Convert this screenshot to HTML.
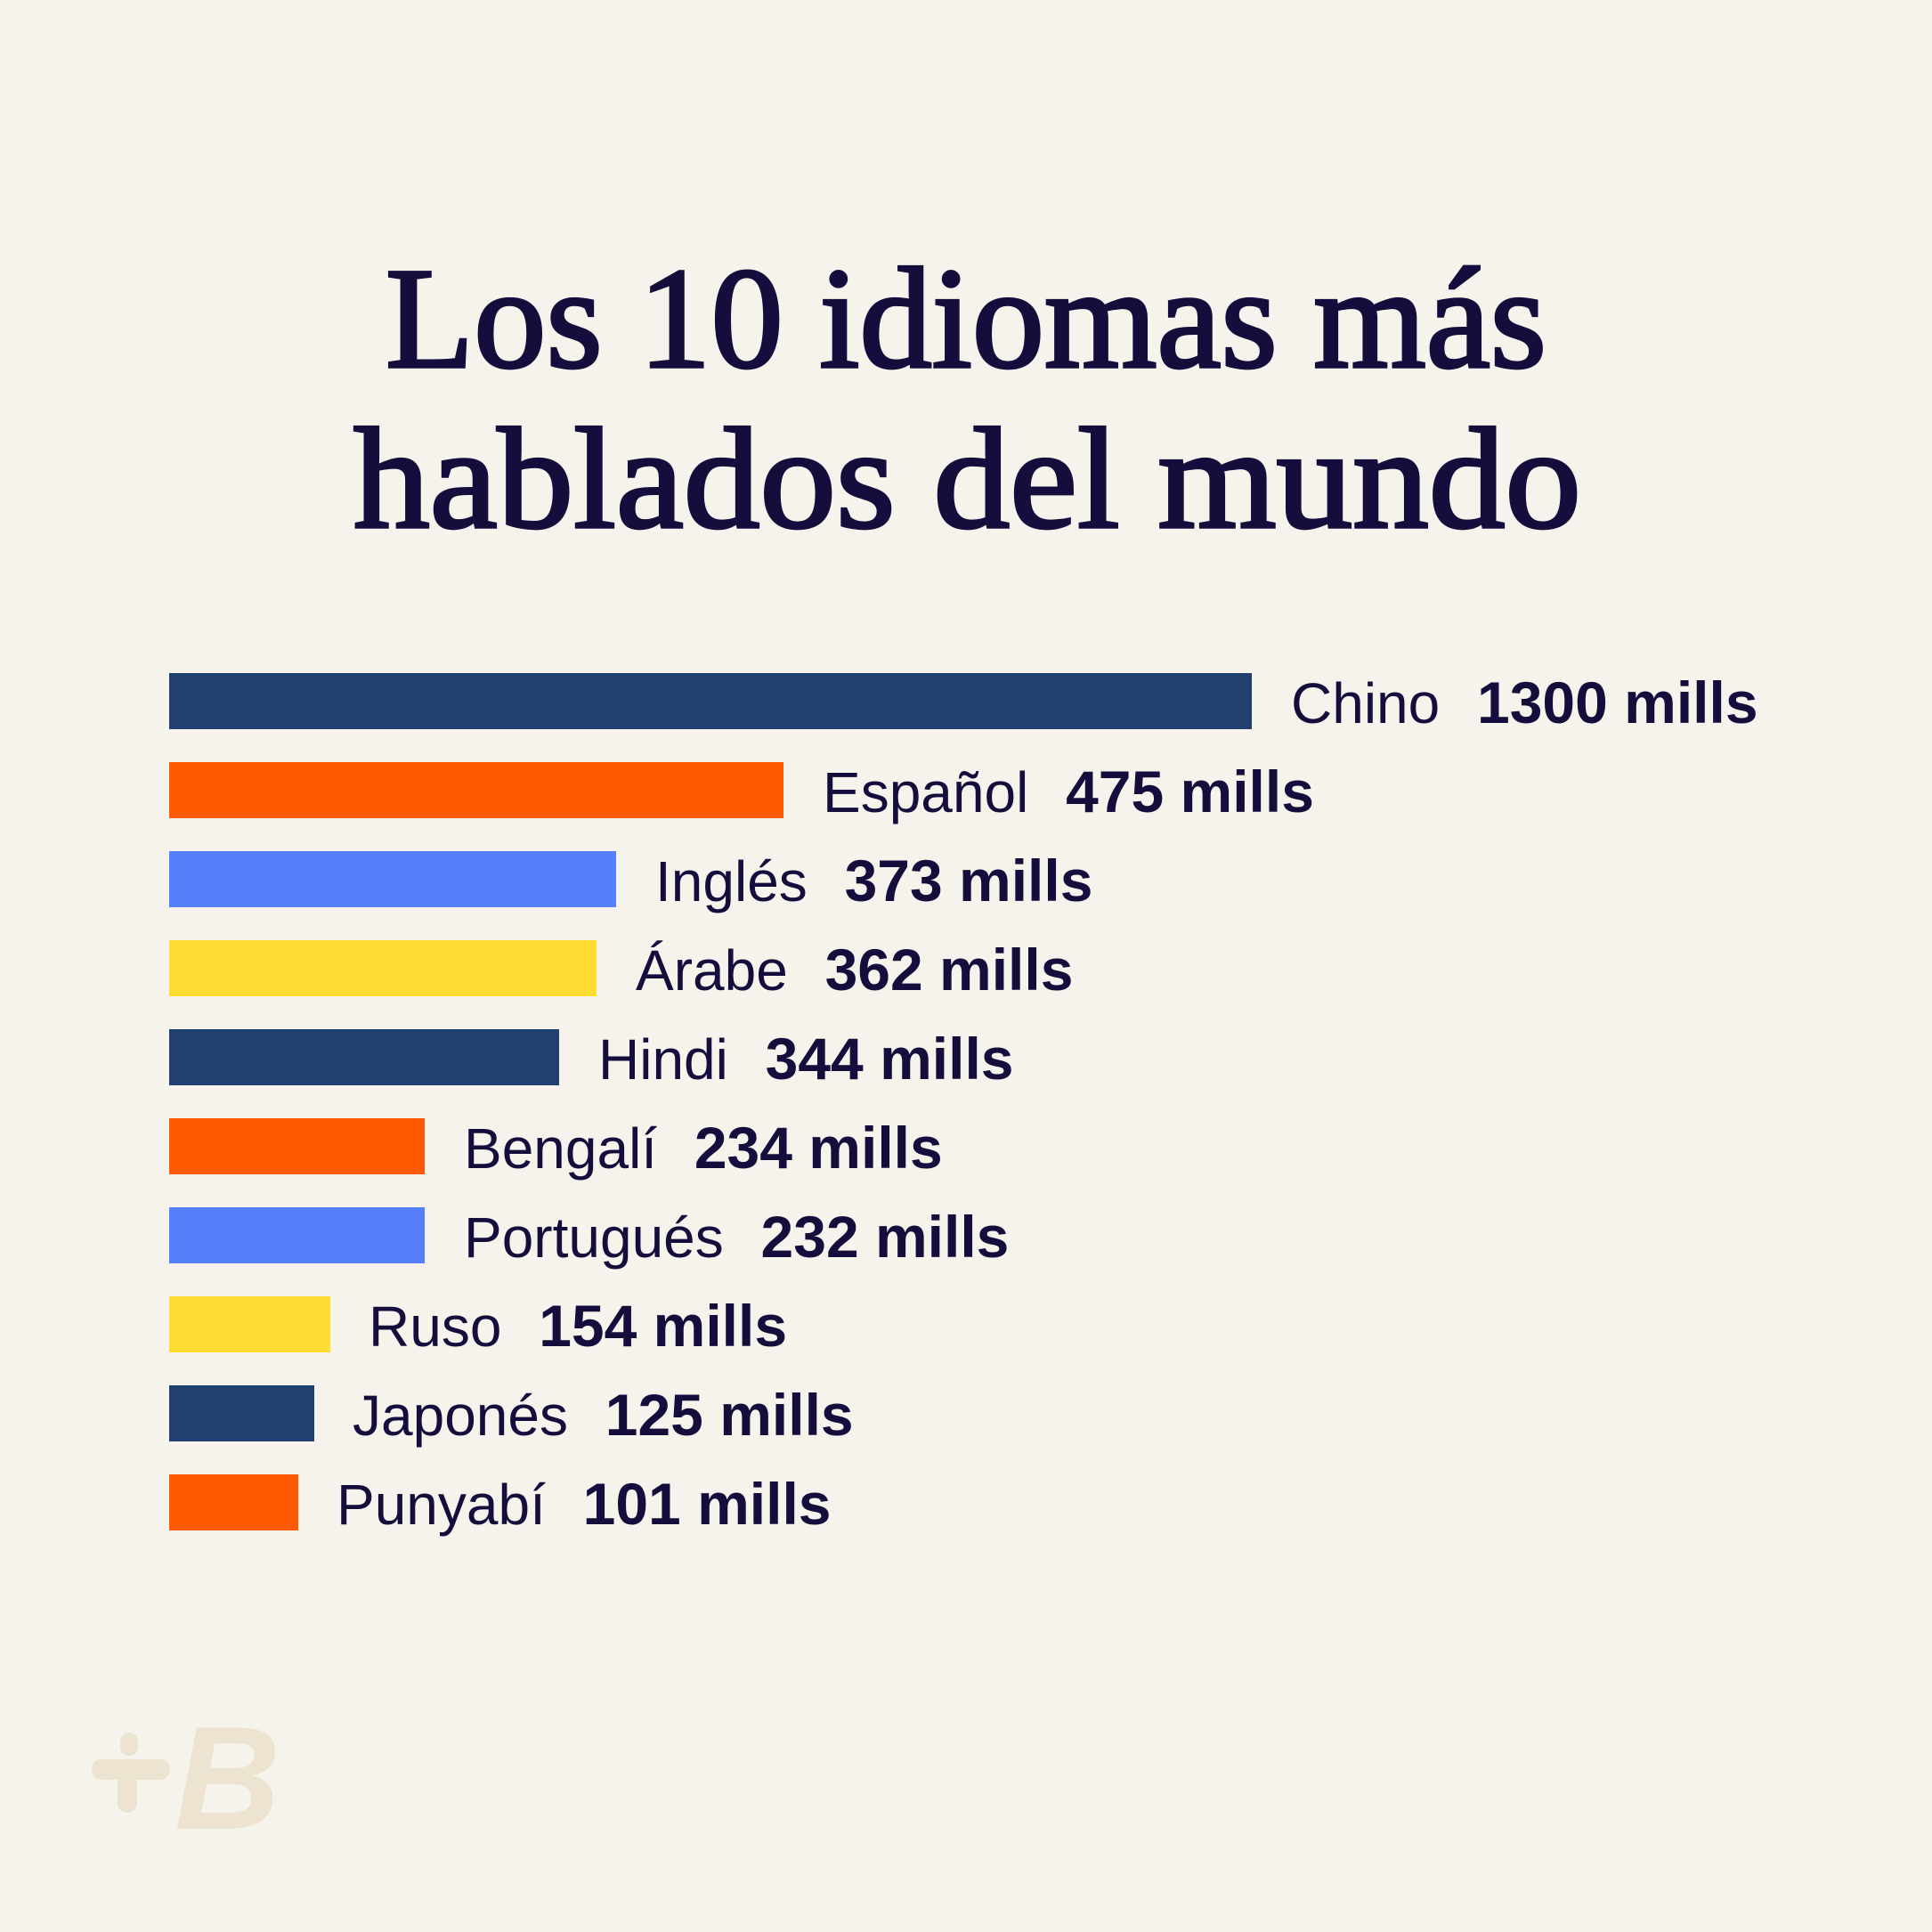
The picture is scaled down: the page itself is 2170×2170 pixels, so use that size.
<!DOCTYPE html>
<html><head><meta charset="utf-8"><style>
html,body{margin:0;padding:0;background:#f6f3ec;}
svg{display:block}
</style></head><body>
<svg width="2170" height="2170" viewBox="0 0 2170 2170" xmlns="http://www.w3.org/2000/svg">
<rect width="2170" height="2170" fill="#f6f3ec"/>
<g font-family="Liberation Serif, serif" font-size="162" fill="#150d3c" stroke="#150d3c" stroke-width="3.5">
<text x="433" y="412" textLength="1304" lengthAdjust="spacingAndGlyphs">Los 10 idiomas más</text>
<text x="397" y="592" textLength="1379" lengthAdjust="spacingAndGlyphs">hablados del mundo</text>
</g>
<g>
<rect x="190" y="756" width="1216" height="63" fill="#22406f"/>
<rect x="190" y="856" width="690" height="63" fill="#ff5a00"/>
<rect x="190" y="956" width="502" height="63" fill="#557ffb"/>
<rect x="190" y="1056" width="480" height="63" fill="#ffdd33"/>
<rect x="190" y="1156" width="438" height="63" fill="#22406f"/>
<rect x="190" y="1256" width="287" height="63" fill="#ff5a00"/>
<rect x="190" y="1356" width="287" height="63" fill="#557ffb"/>
<rect x="190" y="1456" width="181" height="63" fill="#ffdd33"/>
<rect x="190" y="1556" width="163" height="63" fill="#22406f"/>
<rect x="190" y="1656" width="145" height="63" fill="#ff5a00"/>
</g>
<g font-family="Liberation Sans, sans-serif" font-size="64" fill="#150d3c">
<text x="1450" y="812">Chino <tspan dx="24" font-weight="bold" font-size="66">1300 mills</tspan></text>
<text x="924" y="912">Español <tspan dx="24" font-weight="bold" font-size="66">475 mills</tspan></text>
<text x="736" y="1012">Inglés <tspan dx="24" font-weight="bold" font-size="66">373 mills</tspan></text>
<text x="714" y="1112">Árabe <tspan dx="24" font-weight="bold" font-size="66">362 mills</tspan></text>
<text x="672" y="1212">Hindi <tspan dx="24" font-weight="bold" font-size="66">344 mills</tspan></text>
<text x="521" y="1312">Bengalí <tspan dx="24" font-weight="bold" font-size="66">234 mills</tspan></text>
<text x="521" y="1412">Portugués <tspan dx="24" font-weight="bold" font-size="66">232 mills</tspan></text>
<text x="414" y="1512">Ruso <tspan dx="24" font-weight="bold" font-size="66">154 mills</tspan></text>
<text x="396" y="1612">Japonés <tspan dx="24" font-weight="bold" font-size="66">125 mills</tspan></text>
<text x="378" y="1712">Punyabí <tspan dx="24" font-weight="bold" font-size="66">101 mills</tspan></text>
</g>
<g fill="#ede3d1">
<rect x="103" y="1976" width="88" height="23" rx="11"/>
<rect x="132" y="1990" width="22" height="46" rx="11"/>
<rect x="135" y="1946" width="20" height="26" rx="10"/>
<text x="196" y="2054" font-family="Liberation Sans, sans-serif" font-weight="bold" font-style="italic" font-size="165">B</text>
</g>
</svg>
</body></html>
